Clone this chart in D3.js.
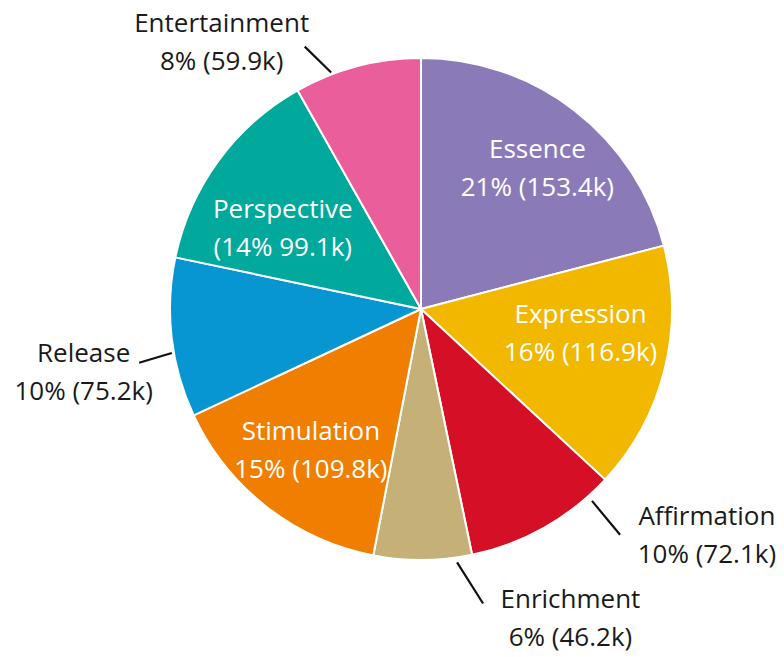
<!DOCTYPE html>
<html>
<head>
<meta charset="utf-8">
<script src="https://cdn.jsdelivr.net/npm/d3@7"></script>
<style>
  html, body { margin: 0; padding: 0; background: #ffffff; }
  svg { display: block; }
  text { font-family: "Open Sans", "DejaVu Sans", sans-serif; font-size: 26px; }
</style>
</head>
<body>
<svg id="chart" width="784" height="657"></svg>
<script>
// Segment names, clockwise from 12 o'clock
const categories = ["Essence", "Expression", "Affirmation", "Enrichment",
                    "Stimulation", "Release", "Perspective", "Entertainment"];
// Values in thousands
const values = [153.4, 116.9, 72.1, 46.2, 109.8, 75.2, 99.1, 59.9];
// Percent labels as printed
const percents = [21, 16, 10, 6, 15, 10, 14, 8];
// Slice colours
const colors = ["#8a7bb8", "#f2b800", "#d51026", "#c5b078",
                "#f07e00", "#0896d3", "#00a99c", "#ea5f9b"];

// Label placement (angle in degrees clockwise from top, distance from centre)
const labelAngle  = [41.4, 101.7, 129.4, 154.8, 216.3, 257.9, 297.6, 322.3];
const labelRadius = [176, 163, 370, 351, 186, 345, 156, 326];
const labelInside = [true, true, false, false, true, false, true, false];
// Leader lines for outside labels: [angle start, radius start, angle end, radius end]
const leaders = {
  "Entertainment": [339.2, 253, 336.1, 287],
  "Release":       [260.0, 253, 259.2, 287],
  "Affirmation":   [138.3, 257, 138.6, 301],
  "Enrichment":    [171.9, 256, 168.1, 301]
};

const cx = 421, cy = 309, R = 251;
const svg = d3.select("#chart");
const g = svg.append("g").attr("transform", `translate(${cx},${cy})`);

const data = categories.map((c, i) => ({ name: c, value: values[i], pct: percents[i], i }));

const pie = d3.pie().sort(null).value(d => d.value).startAngle(0).endAngle(2 * Math.PI);
const arc = d3.arc().innerRadius(0).outerRadius(R);
const color = d3.scaleOrdinal().domain(categories).range(colors);

g.selectAll("path.slice")
  .data(pie(data))
  .join("path")
  .attr("class", "slice")
  .attr("d", arc)
  .attr("fill", d => color(d.data.name))
  .attr("stroke", "#ffffff")
  .attr("stroke-width", 2)
  .attr("stroke-linejoin", "round");

const polar = (deg, r) => {
  const a = deg * Math.PI / 180;
  return [r * Math.sin(a), -r * Math.cos(a)];
};

// Leader lines
Object.entries(leaders).forEach(([name, l]) => {
  const p1 = polar(l[0], l[1]);
  const p2 = polar(l[2], l[3]);
  g.append("line")
    .attr("x1", p1[0]).attr("y1", p1[1])
    .attr("x2", p2[0]).attr("y2", p2[1])
    .attr("stroke", "#111111")
    .attr("stroke-width", 2.2);
});

// Two-line labels: name, then share and value
const fmtK = v => d3.format(".1f")(v) + "k";
data.forEach((d, i) => {
  const [x, y] = polar(labelAngle[i], labelRadius[i]);
  const inside = labelInside[i];
  const line2 = d.name === "Perspective"
    ? `(${d.pct}% ${fmtK(d.value)})`
    : `${d.pct}% (${fmtK(d.value)})`;
  const t = g.append("text")
    .attr("text-anchor", "middle")
    .attr("fill", inside ? "#ffffff" : "#1a1a1a");
  t.append("tspan").attr("x", x).attr("y", y - 19).text(d.name);
  t.append("tspan").attr("x", x).attr("y", y + 19).text(line2);
});
</script>
</body>
</html>
